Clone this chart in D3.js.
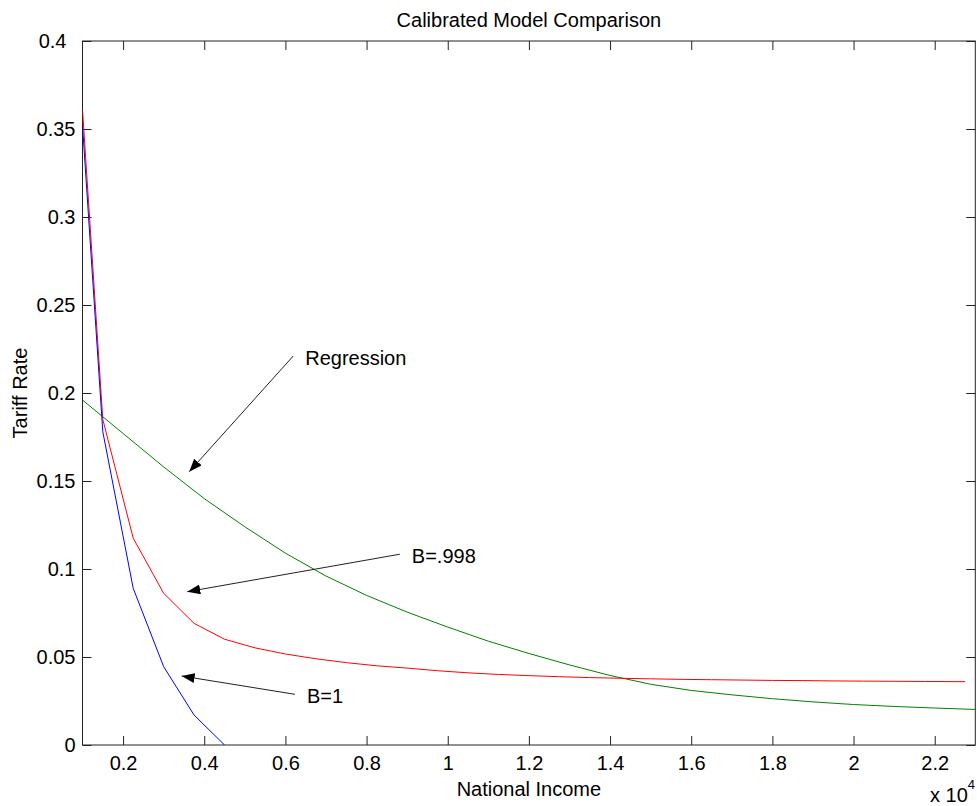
<!DOCTYPE html>
<html>
<head>
<meta charset="utf-8">
<script src="https://cdn.jsdelivr.net/npm/d3@7"></script>
<style>
  body { margin: 0; background: #fff; }
  text { font-family: "Liberation Sans", Arial, sans-serif; fill: #000; }
</style>
</head>
<body>
<div id="chart"></div>
<script>
// data (national income in dollars, tariff rate)
const blueX = [1000, 1500, 2250, 3000, 3750, 4500];
const blueY = [0.352, 0.178, 0.089, 0.0445, 0.017, 0.0];

const redX = [1000, 1500, 2250, 3000, 3750, 4500, 5250, 6000, 6750, 7500, 8250, 9000,
    9750, 10500, 11250, 12000, 12750, 13500, 14250, 15000, 15750, 16500, 17250, 18000,
    18750, 19500, 20250, 21000, 21750, 22500, 22750];
const redY = [0.361, 0.185, 0.1175, 0.0862, 0.0691, 0.0601, 0.0552, 0.0517, 0.049, 0.0468,
    0.045, 0.0437, 0.0422, 0.041, 0.0401, 0.0394, 0.0388, 0.0383, 0.0379, 0.0376, 0.0373,
    0.0371, 0.0369, 0.0367, 0.0366, 0.0364, 0.0363, 0.0362, 0.0361, 0.036, 0.036];

const greenX = [1000, 2000, 3000, 4000, 5000, 6000, 7000, 8000, 9000, 10000, 11000, 12000,
    13000, 14000, 15000, 16000, 17000, 18000, 19000, 20000, 21000, 22000, 23000];
const greenY = [0.196, 0.177, 0.158, 0.140, 0.124, 0.109, 0.096, 0.085, 0.0755, 0.067, 0.059,
    0.052, 0.0455, 0.0395, 0.0345, 0.031, 0.0285, 0.0263, 0.0245, 0.023, 0.0219, 0.021, 0.0202];

const xTicks = [2000, 4000, 6000, 8000, 10000, 12000, 14000, 16000, 18000, 20000, 22000];
const xTickLabels = ["0.2", "0.4", "0.6", "0.8", "1", "1.2", "1.4", "1.6", "1.8", "2", "2.2"];
const yTicks = [0, 0.05, 0.1, 0.15, 0.2, 0.25, 0.3, 0.35, 0.4];
const yTickLabels = ["0", "0.05", "0.1", "0.15", "0.2", "0.25", "0.3", "0.35", "0.4"];

// annotations: text, tail (x,y), head (x,y)
const notes = [
    { label: "Regression", tx: 6192, ty: 0.221, hx: 3630, hy: 0.1553 },
    { label: "B=.998", tx: 8820, ty: 0.1084, hx: 3581, hy: 0.0871 },
    { label: "B=1", tx: 6234, ty: 0.0288, hx: 3443, hy: 0.0392 }
];

const W = 977, H = 806;
const plotL = 82.5, plotR = 975.3, plotT = 41, plotB = 745;

const svg = d3.select('#chart').append('svg')
    .attr('width', W)
    .attr('height', H);

const xScale = d3.scaleLinear().domain([1000, 23000]).range([plotL, plotR]);
const yScale = d3.scaleLinear().domain([0, 0.4]).range([plotB, plotT]);

const defs = svg.append('defs');
defs.append('clipPath')
    .attr('id', 'plotclip')
    .append('rect')
    .attr('x', plotL).attr('y', plotT)
    .attr('width', plotR - plotL).attr('height', plotB - plotT);

// axes with inward ticks on all four sides
svg.append('g')
    .attr('transform', `translate(0, ${plotB})`)
    .call(d3.axisBottom(xScale).tickValues(xTicks)
        .tickFormat((d, i) => xTickLabels[i]).tickSize(-9).tickPadding(11));

const yAxis = svg.append('g')
    .attr('transform', `translate(${plotL}, 0)`)
    .call(d3.axisLeft(yScale).tickValues(yTicks)
        .tickFormat((d, i) => yTickLabels[i]).tickSize(-9).tickPadding(7));

svg.append('g')
    .attr('transform', `translate(0, ${plotT})`)
    .call(d3.axisTop(xScale).tickValues(xTicks).tickFormat('').tickSize(-9));

svg.append('g')
    .attr('transform', `translate(${plotR}, 0)`)
    .call(d3.axisRight(yScale).tickValues(yTicks).tickFormat('').tickSize(-9));

svg.selectAll('.domain').remove();
svg.selectAll('.tick line').attr('stroke', '#222');
svg.selectAll('.tick text').style('font-size', '20px').attr('fill', '#000')
    .style('font-family', '"Liberation Sans", Arial, sans-serif');

// the top y label sits a bit to the left in the original
yAxis.selectAll('.tick text').filter((d) => d === 0.4).attr('dx', -9);

svg.append('rect')
    .attr('x', plotL).attr('y', plotT)
    .attr('width', plotR - plotL).attr('height', plotB - plotT)
    .attr('fill', 'none')
    .attr('stroke', '#222')
    .attr('stroke-width', 1);

// curves
const line = d3.line()
    .x((d) => xScale(d[0]))
    .y((d) => yScale(d[1]));

const series = [
    { xs: greenX, ys: greenY, color: '#008000' },
    { xs: redX, ys: redY, color: '#ff0000' },
    { xs: blueX, ys: blueY, color: '#0000ff' }
];

series.forEach((s) => {
    svg.append('path')
        .datum(s.xs.map((x, i) => [x, s.ys[i]]))
        .attr('clip-path', 'url(#plotclip)')
        .attr('fill', 'none')
        .attr('stroke', s.color)
        .attr('stroke-width', 1)
        .attr('d', line);
});

// arrows
defs.append('marker')
    .attr('id', 'head')
    .attr('viewBox', '0 0 13 10')
    .attr('refX', 13).attr('refY', 5)
    .attr('markerWidth', 13).attr('markerHeight', 10)
    .attr('markerUnits', 'userSpaceOnUse')
    .attr('orient', 'auto')
    .append('path')
    .attr('d', 'M0,0 L13,5 L0,10 Z')
    .attr('fill', '#000');

notes.forEach((n) => {
    svg.append('line')
        .attr('x1', xScale(n.tx)).attr('y1', yScale(n.ty))
        .attr('x2', xScale(n.hx)).attr('y2', yScale(n.hy))
        .attr('stroke', '#222')
        .attr('stroke-width', 1)
        .attr('marker-end', 'url(#head)');

    svg.append('text')
        .attr('x', xScale(n.tx) + 12)
        .attr('y', yScale(n.ty) + 9)
        .style('font-size', '20px')
        .text(n.label);
});

// titles
svg.append('text')
    .attr('x', (plotL + plotR) / 2)
    .attr('y', 27)
    .attr('text-anchor', 'middle')
    .style('font-size', '20px')
    .text('Calibrated Model Comparison');

svg.append('text')
    .attr('x', (plotL + plotR) / 2)
    .attr('y', 796)
    .attr('text-anchor', 'middle')
    .style('font-size', '20px')
    .text('National Income');

svg.append('text')
    .attr('transform', `translate(27, ${(plotT + plotB) / 2}) rotate(-90)`)
    .attr('text-anchor', 'middle')
    .style('font-size', '20px')
    .text('Tariff Rate');

const expLabel = svg.append('text')
    .attr('x', 930)
    .attr('y', 802)
    .style('font-size', '20px');
expLabel.append('tspan').text('x 10');
expLabel.append('tspan').attr('dy', -13).style('font-size', '13px').text('4');
</script>
</body>
</html>
